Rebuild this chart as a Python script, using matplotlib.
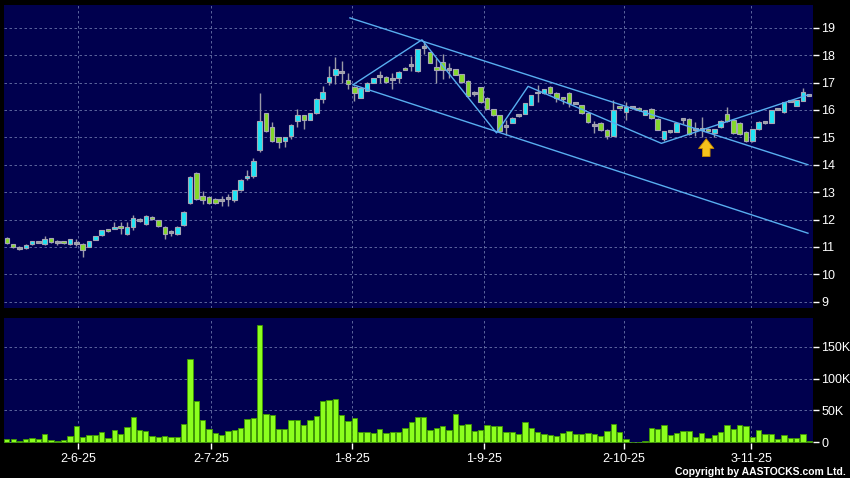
import numpy as np
import matplotlib
matplotlib.use('Agg')
from matplotlib import pyplot as plt

# daily candles (index 0 = first bar)
opens = [11.32, 11.10, 10.97, 10.95, 11.10, 11.17, 11.09, 11.32, 11.16, 11.20,
         11.09, 11.15, 11.11, 11.00, 11.27, 11.43, 11.65, 11.67, 11.78, 11.46,
         11.72, 11.97, 11.83, 12.07, 11.98, 11.74, 11.56, 11.46, 11.80, 12.60,
         13.69, 12.84, 12.82, 12.76, 12.73, 12.79, 12.71, 13.07, 13.51, 13.57,
         14.53, 15.87, 15.36, 15.00, 14.88, 15.06, 15.60, 15.81, 15.64, 15.87,
         16.41, 17.02, 17.29, 17.40, 17.10, 16.84, 16.45, 16.70, 17.00, 17.25,
         17.22, 17.13, 17.18, 17.54, 17.64, 17.43, 18.29, 18.10, 17.55, 17.76,
         17.49, 17.49, 17.30, 17.06, 16.61, 16.82, 16.45, 16.02, 15.80, 15.41,
         15.54, 15.81, 15.86, 16.19, 16.64, 16.60, 16.84, 16.63, 16.47, 16.63,
         16.26, 16.17, 15.88, 15.44, 15.53, 15.27, 15.06, 16.13, 15.94, 16.11,
         16.08, 15.83, 16.05, 15.67, 14.94, 15.22, 15.21, 15.67, 15.67, 15.31,
         15.31, 15.32, 15.14, 15.36, 15.85, 15.63, 15.54, 15.20, 14.86, 15.30,
         15.56, 15.54, 16.03, 15.91, 16.34, 16.16, 16.33, 16.54]
highs = [11.35, 11.12, 11.03, 11.10, 11.22, 11.20, 11.39, 11.34, 11.25, 11.22,
         11.30, 11.30, 11.13, 11.22, 11.41, 11.63, 11.67, 11.90, 11.90, 11.90,
         12.17, 12.05, 12.15, 12.12, 12.00, 11.76, 11.60, 11.76, 12.30, 13.58,
         13.72, 13.03, 12.84, 12.78, 12.87, 12.93, 13.09, 13.47, 13.80, 14.25,
         16.61, 15.90, 15.55, 15.02, 15.02, 15.47, 16.03, 15.83, 15.89, 16.45,
         16.88, 17.60, 17.95, 17.79, 17.34, 16.86, 16.82, 17.02, 17.17, 17.42,
         17.24, 17.36, 17.42, 17.56, 17.97, 18.24, 18.52, 18.12, 17.91, 18.04,
         17.73, 17.51, 17.32, 17.08, 16.70, 16.84, 16.47, 16.04, 15.82, 15.62,
         15.74, 15.85, 16.27, 16.55, 16.90, 16.77, 16.86, 16.65, 16.49, 16.65,
         16.30, 16.19, 15.90, 15.60, 15.55, 15.29, 16.35, 16.15, 16.28, 16.15,
         16.10, 16.00, 16.07, 15.69, 15.24, 15.25, 15.54, 15.70, 15.69, 15.55,
         15.73, 15.34, 15.32, 15.62, 16.09, 15.65, 15.56, 15.22, 15.32, 15.59,
         15.60, 16.00, 16.05, 16.30, 16.36, 16.37, 16.79, 16.56]
lows = [11.10, 10.97, 10.90, 10.93, 11.08, 11.14, 11.07, 11.15, 11.07, 11.10,
        11.07, 11.04, 10.62, 10.98, 11.25, 11.41, 11.55, 11.65, 11.48, 11.44,
        11.60, 11.90, 11.80, 11.98, 11.74, 11.29, 11.40, 11.44, 11.78, 12.55,
        12.70, 12.58, 12.57, 12.55, 12.50, 12.50, 12.65, 13.05, 13.43, 13.50,
        14.45, 15.18, 14.82, 14.60, 14.64, 14.95, 15.36, 15.30, 15.62, 15.85,
        16.27, 16.90, 16.95, 17.00, 16.76, 16.33, 16.43, 16.68, 16.98, 17.00,
        17.00, 16.76, 17.00, 17.46, 17.43, 17.40, 18.04, 17.70, 17.00, 17.12,
        17.18, 17.27, 17.00, 16.49, 16.50, 16.27, 16.03, 15.78, 15.21, 15.10,
        15.52, 15.75, 15.84, 16.17, 16.30, 16.58, 16.58, 16.30, 16.20, 16.10,
        16.20, 15.86, 15.53, 15.15, 15.23, 14.94, 15.04, 16.05, 15.63, 16.05,
        15.97, 15.81, 15.68, 15.26, 14.86, 15.17, 15.19, 15.50, 15.09, 15.05,
        15.00, 15.21, 15.00, 15.34, 15.56, 15.12, 15.09, 14.84, 14.84, 15.28,
        15.50, 15.52, 15.98, 15.89, 16.30, 16.14, 16.31, 16.50]
closes = [11.13, 11.00, 10.96, 11.08, 11.20, 11.16, 11.28, 11.17, 11.17, 11.13,
          11.28, 11.16, 10.90, 11.20, 11.39, 11.61, 11.57, 11.74, 11.68, 11.74,
          12.07, 11.98, 12.12, 12.01, 11.76, 11.46, 11.55, 11.74, 12.27, 13.55,
          12.76, 12.72, 12.60, 12.61, 12.72, 12.78, 13.07, 13.45, 13.58, 14.14,
          15.58, 15.24, 14.85, 14.82, 15.00, 15.45, 15.81, 15.64, 15.87, 16.39,
          16.66, 17.20, 17.51, 17.39, 16.93, 16.60, 16.80, 17.00, 17.15, 17.24,
          17.02, 17.12, 17.40, 17.48, 17.63, 18.22, 18.28, 17.73, 17.46, 17.46,
          17.48, 17.29, 17.02, 16.51, 16.60, 16.29, 16.05, 15.80, 15.23, 15.40,
          15.72, 15.80, 16.25, 16.53, 16.63, 16.75, 16.60, 16.44, 16.39, 16.26,
          16.25, 15.88, 15.55, 15.43, 15.25, 15.06, 15.98, 16.07, 16.10, 16.10,
          15.99, 15.98, 15.70, 15.28, 15.22, 15.21, 15.52, 15.66, 15.11, 15.30,
          15.30, 15.23, 15.30, 15.60, 15.58, 15.14, 15.11, 14.86, 15.30, 15.57,
          15.55, 15.98, 16.02, 16.28, 16.33, 16.35, 16.65, 16.53]
# volume in thousands
volumes = [5, 4.5, 2.4, 4, 6.5, 4.5, 13, 3, 2.4, 3,
           10, 25, 7.5, 11, 11, 16.5, 6, 19.6, 12.8, 23.8,
           39.5, 19, 17, 9, 8, 9, 8, 8, 29, 131,
           64.7, 34, 21, 15, 11, 17.5, 19.6, 22.8, 36, 38,
           184.6, 43.7, 42, 20.7, 20.5, 34.8, 35, 27.5, 34, 41,
           64.7, 67, 68, 42.7, 33, 37.4, 15.4, 16.5, 15, 20,
           15, 16.5, 16.5, 22.8, 32, 40, 40, 19, 22, 26,
           19, 43.7, 27.5, 29, 17, 19, 27.5, 26, 25, 15.4,
           16, 13.4, 31, 21.7, 15.4, 12.3, 10.7, 9, 14, 17.5,
           12.3, 12.3, 14, 12.3, 9.7, 17, 29, 16.5, 4, 0.8,
           0.5, 1.3, 22.8, 20, 27, 10.7, 14.4, 17, 17, 8.6,
           14, 6.5, 10.7, 16, 27, 20.7, 27, 25.4, 8.6, 19.6,
           12.3, 12.3, 4, 11.8, 6.5, 7, 12.8, 1.8]

date_labels = ['2-6-25', '2-7-25', '1-8-25', '1-9-25', '2-10-25', '3-11-25']
date_pos = [11.3, 32.3, 54.6, 75.6, 97.7, 117.8]

price_ticks = [9, 10, 11, 12, 13, 14, 15, 16, 17, 18, 19]
vol_ticks = [0, 50, 100, 150]
vol_tick_labels = ['0', '50K', '100K', '150K']

# drawn trend lines, (bar index, price)
channel_top = [(54.3, 19.36), (126.8, 14.00)]
channel_bottom = [(54.8, 16.92), (126.8, 11.50)]
zigzag = [(54.8, 16.92), (65.7, 18.56), (77.5, 15.16), (82.5, 16.86),
          (103.6, 14.78), (126.8, 16.55)]
arrow_at = (110.7, 15.05)

NAVY = '#00004e'
GRID = '#6a74a8'
LINE = '#58aef0'
FONT = ['Liberation Sans', 'DejaVu Sans']


def style_axis(ax):
    ax.set_facecolor(NAVY)
    for s in ax.spines.values():
        s.set_visible(False)
    ax.yaxis.tick_right()
    ax.tick_params(axis='y', colors='white', length=4, width=1, pad=2, labelsize=9)
    ax.grid(True, color=GRID, linestyle=(0, (3, 3)), linewidth=0.6)
    ax.set_axisbelow(True)


def main():
    plt.rcParams['font.family'] = FONT

    fig = plt.figure(figsize=(8.5, 4.78), dpi=100, facecolor='black')
    ax = fig.add_axes([4 / 850, 1 - 308 / 478, 809 / 850, 303 / 478])
    vax = fig.add_axes([4 / 850, 1 - 443.3 / 478, 809 / 850, 125.3 / 478])

    x = np.arange(len(opens))
    o = np.array(opens)
    c = np.array(closes)
    diff = c - o
    colors = np.where(np.abs(diff) < 0.04, '#9c9ca4',
                      np.where(diff > 0, '#1ee4f4', '#84d82a'))
    heights = np.maximum(np.abs(diff), 0.07)
    bottoms = (o + c) / 2 - heights / 2

    # price panel
    style_axis(ax)
    ax.vlines(x, lows, highs, color='#9a9aa6', linewidth=1, zorder=2)
    ax.bar(x, heights, 0.72, bottom=bottoms, color=colors,
           edgecolor='#a6a6b4', linewidth=0.8, zorder=3)

    for line in [channel_top, channel_bottom, zigzag]:
        lx, ly = zip(*line)
        ax.plot(lx, ly, color=LINE, linewidth=1, zorder=4)

    ax.annotate('', xy=arrow_at, xytext=(arrow_at[0], arrow_at[1] - 0.85),
                arrowprops=dict(arrowstyle='simple,head_width=1.1,head_length=0.7,tail_width=0.55',
                                fc='#f6c21c', ec='#c88a00', lw=0.6), zorder=5)

    ax.set_xlim(-0.45, 127.6)
    ax.set_ylim(8.77, 19.83)
    ax.set_yticks(price_ticks)
    ax.set_xticks(date_pos)
    ax.tick_params(axis='x', length=0, labelbottom=False)

    # volume panel
    style_axis(vax)
    vax.bar(x, volumes, 0.84, color='#8cff1e', edgecolor='#3f9a00',
            linewidth=0.6, zorder=3)
    vax.set_xlim(-0.45, 127.6)
    vax.set_ylim(-2, 195.6)
    vax.set_yticks(vol_ticks)
    vax.set_yticklabels(vol_tick_labels)
    vax.set_xticks(date_pos)
    vax.set_xticklabels(date_labels)
    vax.tick_params(axis='x', colors='white', length=4, width=1, pad=3, labelsize=9)

    fig.text(0.995, 1 - 472 / 478, 'Copyright by AASTOCKS.com Ltd.', color='white',
             fontsize=7.5, fontweight='bold', ha='right', va='center')

    fig.savefig('out.png', dpi=100, facecolor='black')


if __name__ == '__main__':
    main()
